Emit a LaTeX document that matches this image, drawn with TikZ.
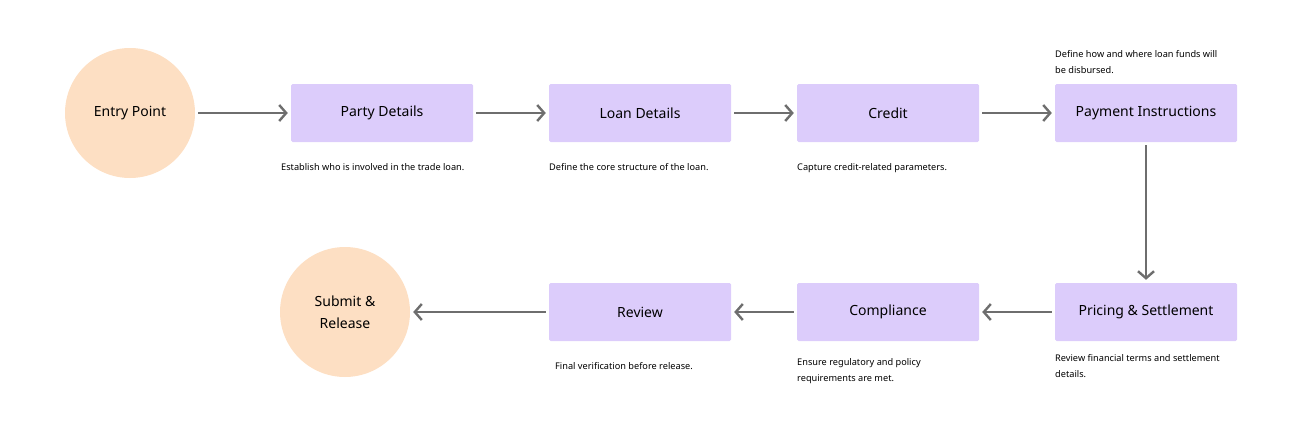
\documentclass[tikz,border=0pt]{standalone}
\usepackage{fontspec}
\setmainfont{Noto Sans}
\usetikzlibrary{arrows.meta}
\definecolor{peach}{HTML}{FDDFC3}
\definecolor{lav}{HTML}{DCCCFB}
\definecolor{arrowgray}{HTML}{6E6E6E}

\begin{document}
\begin{tikzpicture}[x=1pt,y=-1pt,
  stepbox/.style={fill=lav,rounded corners=1.5pt,minimum width=182pt,minimum height=58pt,inner sep=0pt,font=\fontsize{14}{17}\selectfont},
  endpt/.style={circle,fill=peach,minimum size=130pt,inner sep=0pt,align=center,font=\fontsize{14}{22}\selectfont},
  note/.style={anchor=north west,inner sep=0pt,align=left,font=\fontsize{9.2}{16}\selectfont},
  flow/.style={draw=arrowgray,line width=2.4pt,-{Straight Barb[length=7pt,width=16pt,line width=2.4pt]},shorten >=3pt,shorten <=3pt}]

\useasboundingbox (0,0) rectangle (1292,447);

\node[endpt] (entry) at (130,113) {Entry Point};
\node[stepbox] (party) at (382,113) {Party Details};
\node[stepbox] (loan) at (640,113) {Loan Details};
\node[stepbox] (credit) at (888,113) {Credit};
\node[stepbox] (pay) at (1146,113) {Payment Instructions};

\node[stepbox] (pricing) at (1146,312) {Pricing \& Settlement};
\node[stepbox] (comp) at (888,312) {Compliance};
\node[stepbox] (review) at (640,312) {Review};
\node[endpt] (submit) at (345,312) {Submit \&\\Release};

\draw[flow] (entry) -- (party);
\draw[flow] (party) -- (loan);
\draw[flow] (loan) -- (credit);
\draw[flow] (credit) -- (pay);
\draw[flow] (pay) -- (pricing);
\draw[flow] (pricing) -- (comp);
\draw[flow] (comp) -- (review);
\draw[flow] (review) -- (submit);

\node[note] (n1) at (281,163) {Establish who is involved in the trade loan.};
\node[note] (n2) at (549,163) {Define the core structure of the loan.};
\node[note] (n3) at (797,163) {Capture credit-related parameters.};
\node[note] (n4) at (1055,50) {Define how and where loan funds will\\be disbursed.};
\node[note] (n5) at (1055,354) {Review financial terms and settlement\\details.};
\node[note] (n6) at (797,358) {Ensure regulatory and policy\\requirements are met.};
\node[note] (n7) at (555,362) {Final verification before release.};

\end{tikzpicture}
\end{document}
